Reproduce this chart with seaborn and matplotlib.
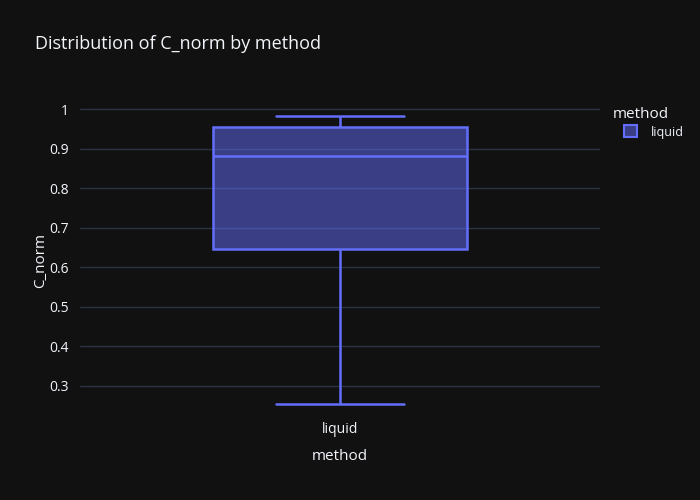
import numpy as np
import pandas as pd
import seaborn as sns
import matplotlib.pyplot as plt
from matplotlib.patches import Patch

# values (min, q1, median, q3, max)
methods = ["liquid"] * 5
c_norm = [0.255, 0.646, 0.881, 0.955, 0.983]
y_ticks = [0.3, 0.4, 0.5, 0.6, 0.7, 0.8, 0.9, 1.0]
y_tick_labels = ["0.3", "0.4", "0.5", "0.6", "0.7", "0.8", "0.9", "1"]

df = pd.DataFrame({"method": methods, "C_norm": c_norm})

bg = "#111111"
txt = "#f2f5fa"
grid = "#283442"
blue = "#636efa"
fill = (0.388, 0.431, 0.98, 0.5)

sns.set_theme(style="dark")
plt.rcParams["font.family"] = ["Open Sans", "DejaVu Sans"]

fig = plt.figure(figsize=(7, 5), dpi=100, facecolor=bg)
ax = fig.add_axes([80 / 700, 80 / 500, 520 / 700, 320 / 500])
ax.set_facecolor(bg)

sns.boxplot(data=df, x="method", y="C_norm", width=0.49, whis=10,
            color=blue, linecolor=blue, linewidth=1.8,
            boxprops=dict(facecolor=fill),
            medianprops=dict(color=blue, linewidth=1.8),
            showfliers=False, ax=ax, zorder=3)

ax.set_xlim(-0.5, 0.5)
ax.set_ylim(0.214, 1.023)
ax.set_yticks(y_ticks)
ax.set_yticklabels(y_tick_labels)
ax.yaxis.grid(True, color=grid, linewidth=1)
ax.xaxis.grid(False)
ax.set_axisbelow(True)
for s in ax.spines.values():
    s.set_visible(False)
ax.tick_params(axis="both", length=0, colors=txt, labelsize=10)
ax.tick_params(axis="y", pad=8)
ax.tick_params(axis="x", pad=1.5)

ax.set_xlabel("method", color=txt, fontsize=11, labelpad=8.5)
ax.set_ylabel("C_norm", color=txt, fontsize=11, labelpad=1)
fig.text(35 / 700, 1 - 44 / 500, "Distribution of C_norm by method", color=txt,
         fontsize=13, va="center", ha="left")

# legend: title as text, one swatch underneath
fig.text(613 / 700, 1 - 114 / 500, "method", color=txt, fontsize=11,
         va="center", ha="left")
handle = Patch(facecolor=fill, edgecolor=blue, linewidth=1.5)
leg = fig.legend([handle], ["liquid"], loc="center left",
                 bbox_to_anchor=(624 / 700, 1 - 132 / 500), frameon=False,
                 fontsize=9, handlelength=1.05, handleheight=1.05,
                 handletextpad=1.1, borderaxespad=0, borderpad=0)
for t in leg.get_texts():
    t.set_color(txt)

fig.savefig("out.png", facecolor=bg)
